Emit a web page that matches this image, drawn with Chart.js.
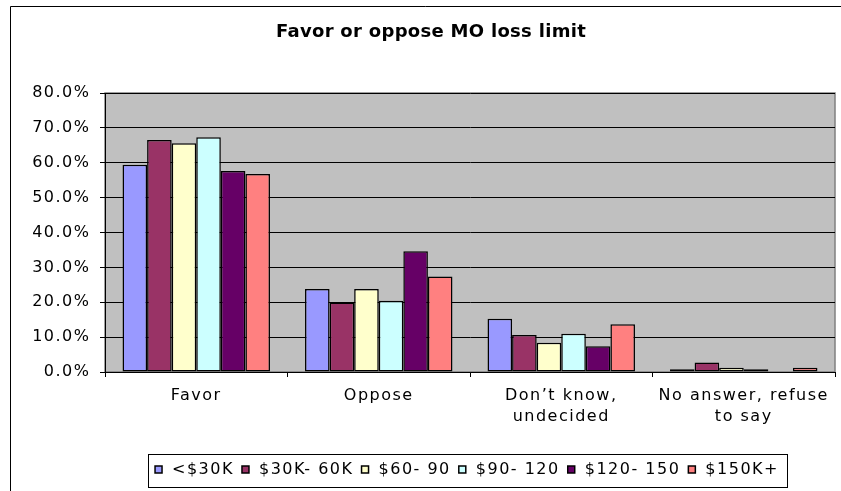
<!DOCTYPE html>
<html>
<head>
<meta charset="utf-8">
<script src="https://cdn.jsdelivr.net/npm/chart.js@4.4.1/dist/chart.umd.min.js"></script>
<style>
html,body{margin:0;padding:0;background:#fff;overflow:hidden}
#wrap{width:841px;height:491px}
canvas{display:block}
</style>
</head>
<body>
<div id="wrap"><canvas id="c" width="841" height="491"></canvas></div>
<script>
// ---- data ----
const chartTitle = 'Favor or oppose MO loss limit';
const categories = ['Favor', 'Oppose', ['Don\u2019t know,', 'undecided'], ['No answer, refuse', 'to say']];
const seriesNames = ['<$30K', '$30K- 60K', '$60- 90', '$90- 120', '$120- 150', '$150K+'];
const under30K   = [59.4, 23.8, 15.3, 0.8];
const k30to60    = [66.5, 19.9, 10.6, 2.7];
const k60to90    = [65.6, 23.8, 8.4, 1.2];
const k90to120   = [67.3, 20.4, 11.0, 0.8];
const k120to150  = [57.6, 34.6, 7.4, 0.0];
const k150plus   = [56.8, 27.4, 13.7, 1.2];
const yTickValues = [0, 10, 20, 30, 40, 50, 60, 70, 80];
const yTickLabels = ['0.0%', '10.0%', '20.0%', '30.0%', '40.0%', '50.0%', '60.0%', '70.0%', '80.0%'];

const seriesValues = [under30K, k30to60, k60to90, k90to120, k120to150, k150plus];
const seriesColors = ['#9999FF', '#993366', '#FFFFCC', '#CCFFFF', '#660066', '#FF8080'];

// ---- layout targets ----
const CANVAS_H = 491;
const PLOT_BOTTOM = 372;
const Y_AXIS_W = 105;
const TITLE_CX = 431;
const LEGEND_CX = 466;
const LEGEND_TEXT_CY = 469.5;
const SPACING = '1.5px';
const TITLE_SPACING = '0.3px';
const FONT = "'DejaVu Sans', 'Liberation Sans', Arial, sans-serif";

Chart.defaults.font.family = FONT;
Chart.defaults.color = '#000';

const excelLook = {
  id: 'excelLook',
  beforeUpdate(chart) { chart.ctx.letterSpacing = SPACING; },
  beforeLayout(chart) { chart.ctx.letterSpacing = SPACING; },
  afterLayout(chart) {
    const t = chart.titleBlock;
    if (t) {
      const dx = TITLE_CX - (t.left + t.right) / 2;
      t.left += dx; t.right += dx;
      if (!t._spacedDraw) {
        const orig = t.draw.bind(t);
        t.draw = function (area) {
          const ctx = chart.ctx;
          const prev = ctx.letterSpacing;
          ctx.letterSpacing = TITLE_SPACING;
          orig(area);
          ctx.letterSpacing = prev;
        };
        t._spacedDraw = true;
      }
    }
    const lg = chart.legend;
    if (lg) {
      const dx = LEGEND_CX - (lg.left + lg.right) / 2;
      lg.left += dx; lg.right += dx;
      const pad = lg.options.labels.padding;
      const fs = lg.options.labels.font.size;
      const h = lg.height;
      lg.top = LEGEND_TEXT_CY - fs / 2 - pad;
      lg.bottom = lg.top + h;
    }
  },
  beforeDraw(chart) {
    const ctx = chart.ctx;
    ctx.letterSpacing = SPACING;
    const a = chart.chartArea;
    ctx.save();
    ctx.fillStyle = '#C0C0C0';
    ctx.fillRect(a.left, a.top, a.right - a.left, a.bottom - a.top);
    ctx.strokeStyle = '#808080';
    ctx.lineWidth = 1.5;
    ctx.strokeRect(a.left, a.top, a.right - a.left, a.bottom - a.top);
    ctx.restore();
  },
  afterDraw(chart) {
    const ctx = chart.ctx;
    ctx.save();
    // outer chart frame
    ctx.strokeStyle = '#000';
    ctx.lineWidth = 1;
    ctx.beginPath();
    ctx.moveTo(10.5, CANVAS_H);
    ctx.lineTo(10.5, 6.5);
    ctx.lineTo(chart.width, 6.5);
    ctx.stroke();
    // legend frame
    const lg = chart.legend;
    if (lg && lg.legendHitBoxes && lg.legendHitBoxes.length) {
      const hb = lg.legendHitBoxes;
      const first = hb[0], last = hb[hb.length - 1];
      const l = Math.round(first.left - 5) + 0.5;
      const r = Math.round(last.left + last.width - 1.5 + 10) + 0.5;
      const cy = LEGEND_TEXT_CY;
      const tp = Math.round(cy - 15.5) + 0.5;
      const bt = Math.round(cy + 17.5) + 0.5;
      ctx.strokeRect(l, tp, r - l, bt - tp);
    }
    ctx.restore();
  }
};

new Chart(document.getElementById('c'), {
  type: 'bar',
  data: {
    labels: categories,
    datasets: seriesNames.map((name, i) => ({
      label: name,
      data: seriesValues[i],
      backgroundColor: seriesColors[i],
      borderColor: '#000',
      borderWidth: 1.5,
      borderSkipped: false,
      categoryPercentage: 0.808,
      barPercentage: 1.0
    }))
  },
  options: {
    responsive: false,
    animation: false,
    devicePixelRatio: 1,
    layout: { padding: { left: 0, right: 6, top: 0, bottom: 0 } },
    plugins: {
      tooltip: { enabled: false },
      title: {
        display: true,
        text: chartTitle,
        color: '#000',
        font: { family: FONT, size: 18, weight: 'bold', lineHeight: 1.2 },
        padding: { top: 22, bottom: 49.4 }
      },
      legend: {
        display: true,
        position: 'bottom',
        labels: {
          color: '#000',
          font: { size: 16 },
          usePointStyle: true,
          pointStyle: 'rect',
          boxWidth: 11,
          boxHeight: 7,
          padding: 6
        }
      }
    },
    scales: {
      x: {
        offset: true,
        grid: { display: true, drawOnChartArea: false, drawTicks: true, tickLength: 5, color: '#000', lineWidth: 1, offset: true },
        border: { display: true, color: '#000', width: 1 },
        ticks: { color: '#000', font: { size: 16, lineHeight: 1.33 }, padding: 8.3, maxRotation: 0, minRotation: 0, autoSkip: false },
        afterFit(scale) {
          const lh = scale.chart.legend ? scale.chart.legend.height : 0;
          scale.height = CANVAS_H - PLOT_BOTTOM - lh;
        }
      },
      y: {
        min: 0,
        max: 80,
        afterBuildTicks(scale) { scale.ticks = yTickValues.map(v => ({ value: v })); },
        grid: { color: '#000', lineWidth: 1, tickLength: 5, drawTicks: true },
        border: { display: true, color: '#000', width: 1 },
        ticks: {
          color: '#000',
          font: { size: 16 },
          padding: 9.5,
          callback: (v, i) => yTickLabels[i]
        },
        afterFit(scale) { scale.width = Y_AXIS_W; }
      }
    }
  },
  plugins: [excelLook]
});
</script>
</body>
</html>
